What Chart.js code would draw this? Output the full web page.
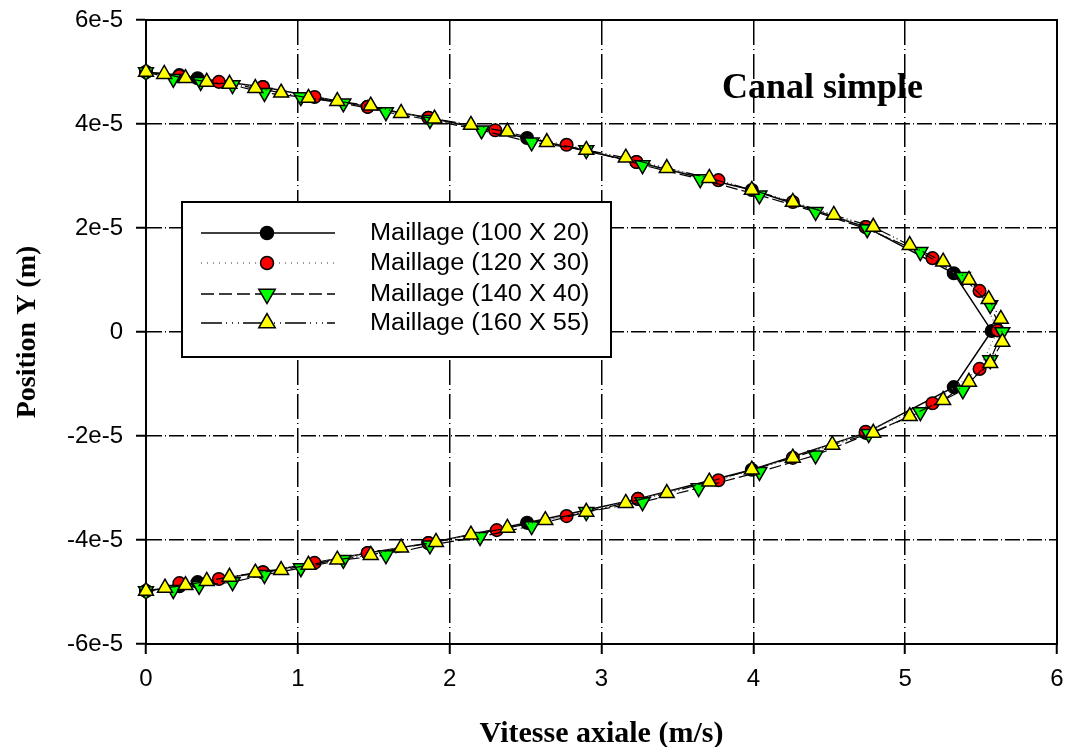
<!DOCTYPE html>
<html>
<head>
<meta charset="utf-8">
<script src="https://cdn.jsdelivr.net/npm/chart.js@4.4.1/dist/chart.umd.min.js"></script>
<style>
  html, body { margin: 0; padding: 0; background: #fff; }
  #wrap { width: 1067px; height: 747px; position: relative; }
</style>
</head>
<body>
<div id="wrap"><canvas id="c" width="1067" height="747"></canvas></div>
<script>
// Axial velocity profiles across the channel for four mesh sizes.
// Velocity in m/s, position in micrometres (converted to metres below),
// each series listed from the top wall to the bottom wall.

const seriesNames = [
  'Maillage (100 X 20)',
  'Maillage (120 X 30)',
  'Maillage (140 X 40)',
  'Maillage (160 X 55)'
];

const velocity100x20 = [0, 0.22, 0.34, 0.77, 1.46, 1.86, 2.51, 3.23, 3.99, 4.74, 5.32, 5.57,
  5.32, 4.74, 3.99, 3.24, 2.51, 1.86, 1.46, 0.77, 0.34, 0.22, 0];
const position100x20 = [50.0, 49.4, 48.8, 47.1, 43.3, 41.2, 37.3, 32.7, 27.3, 20.2, 11.3, 0.2,
  -10.6, -19.4, -26.5, -32.1, -36.7, -40.6, -42.5, -46.2, -48.1, -48.9, -49.8];

const velocity120x30 = [0, 0.22, 0.48, 0.77, 1.11, 1.46, 1.86, 2.30, 2.77, 3.23, 3.77, 4.26, 4.74, 5.18, 5.49, 5.61,
  5.49, 5.18, 4.74, 4.26, 3.77, 3.24, 2.77, 2.31, 1.86, 1.46, 1.11, 0.77, 0.48, 0.22, 0];
const position120x30 = [50.0, 49.2, 48.1, 47.1, 45.2, 43.3, 41.2, 38.8, 36.0, 32.7, 29.2, 25.0, 20.2, 14.2, 7.9, 0.3,
  -7.1, -13.7, -19.2, -24.2, -28.5, -32.1, -35.4, -38.1, -40.6, -42.5, -44.4, -46.2, -47.5, -48.3, -49.8];

const velocity140x40 = [0, 0.18, 0.36, 0.57, 0.78, 1.02, 1.30, 1.58, 1.87, 2.21, 2.54, 2.90, 3.27, 3.65, 4.04, 4.41, 4.75, 5.10, 5.38, 5.56, 5.64,
  5.56, 5.38, 5.10, 4.76, 4.41, 4.04, 3.64, 3.27, 2.90, 2.54, 2.20, 1.87, 1.58, 1.30, 1.02, 0.78, 0.57, 0.35, 0.18, 0];
const position140x40 = [50.0, 48.7, 48.1, 47.5, 46.0, 45.2, 44.0, 42.3, 40.8, 38.8, 36.5, 35.0, 32.1, 29.4, 26.3, 23.1, 19.8, 15.4, 10.6, 5.2, 0,
  -5.4, -11.2, -15.4, -19.6, -23.7, -26.9, -30.0, -32.7, -34.6, -37.3, -39.4, -41.0, -42.9, -43.8, -45.4, -46.7, -48.1, -48.8, -49.6, -49.8];

const velocity160x55 = [0, 0.12, 0.26, 0.40, 0.55, 0.72, 0.89, 1.07, 1.26, 1.48, 1.68, 1.90, 2.14, 2.38, 2.64, 2.90, 3.16, 3.43, 3.71, 3.99, 4.26, 4.53, 4.79, 5.03, 5.25, 5.42, 5.55, 5.63,
  5.64, 5.56, 5.42, 5.25, 5.03, 4.79, 4.52, 4.26, 3.99, 3.71, 3.43, 3.16, 2.90, 2.63, 2.38, 2.14, 1.91, 1.68, 1.48, 1.26, 1.07, 0.89, 0.72, 0.55, 0.40, 0.26, 0.125, 0];
const position160x55 = [50.0, 49.6, 48.8, 48.1, 47.7, 46.9, 46.0, 45.0, 44.4, 43.5, 42.1, 41.0, 39.8, 38.5, 36.5, 35.0, 33.5, 31.5, 29.6, 27.3, 25.0, 22.5, 20.2, 16.7, 13.5, 10.0, 6.3, 2.5,
  -1.9, -6.0, -9.6, -13.1, -16.2, -19.4, -21.7, -24.2, -26.5, -28.8, -31.0, -32.9, -34.6, -36.2, -37.7, -39.0, -40.4, -41.5, -42.9, -43.8, -44.8, -45.8, -46.3, -47.1, -47.9, -48.7, -49.2, -49.8];

const xTickValues = [0, 1, 2, 3, 4, 5, 6];
const xTickLabels = ['0', '1', '2', '3', '4', '5', '6'];
const yTickValues = [-6e-5, -4e-5, -2e-5, 0, 2e-5, 4e-5, 6e-5];
const yTickLabels = ['-6e-5', '-4e-5', '-2e-5', '0', '2e-5', '4e-5', '6e-5'];

const xTitle = 'Vitesse axiale (m/s)';
const yTitle = 'Position Y (m)';
const annotationText = 'Canal simple';

const MICRO = 1e-6;
const toPoints = (vel, pos) => vel.map((u, i) => ({ x: u, y: pos[i] * MICRO }));

// Marker and line styles per mesh
const styles = [
  { fill: '#000000', line: '#000000', dash: [], width: 1.5, point: 'circle', rot: 0, r: 6.3 },
  { fill: '#ff0000', line: '#666666', dash: [1, 3], width: 1.2, point: 'circle', rot: 0, r: 6.3 },
  { fill: '#00ff00', line: '#000000', dash: [12, 4], width: 1.2, point: 'triangle', rot: 180, r: 8.6 },
  { fill: '#ffff00', line: '#000000', dash: [14, 3, 1, 3, 1, 3], width: 1.2, point: 'triangle', rot: 0, r: 8.6 }
];
const legendDashes = [[], [1, 5], [13, 5], [21, 4, 1, 5, 1, 5, 1, 4]];

const seriesData = [
  toPoints(velocity100x20, position100x20),
  toPoints(velocity120x30, position120x30),
  toPoints(velocity140x40, position140x40),
  toPoints(velocity160x55, position160x55)
];

const datasets = seriesData.map((pts, i) => ({
  label: seriesNames[i],
  data: pts,
  showLine: true,
  borderColor: styles[i].line,
  borderWidth: styles[i].width,
  borderDash: styles[i].dash,
  pointStyle: styles[i].point,
  rotation: styles[i].rot,
  pointRadius: styles[i].r,
  pointBackgroundColor: styles[i].fill,
  pointBorderColor: '#000000',
  pointBorderWidth: 1.5,
  tension: 0,
  clip: false,
  order: 3 - i
}));

// Frame around the plot, legend box and annotation
const decorations = {
  id: 'decorations',
  beforeDatasetsDraw(chart) {
    const { ctx, chartArea: a } = chart;
    ctx.save();
    ctx.strokeStyle = '#000';
    ctx.lineWidth = 2;
    ctx.strokeRect(a.left, a.top, a.right - a.left, a.bottom - a.top);
    ctx.restore();
  },
  afterDatasetsDraw(chart) {
    const ctx = chart.ctx;
    ctx.save();
    ctx.fillStyle = '#000';
    ctx.font = 'bold 36px "Liberation Serif"';
    ctx.textAlign = 'left';
    ctx.textBaseline = 'alphabetic';
    ctx.fillText(annotationText, 722, 98);

    // legend
    const bx = 182, by = 202, bw = 429, bh = 155;
    ctx.fillStyle = '#fff';
    ctx.fillRect(bx, by, bw, bh);
    ctx.strokeStyle = '#000';
    ctx.lineWidth = 2;
    ctx.strokeRect(bx, by, bw, bh);
    const rowY = [233, 263, 294, 323];
    seriesNames.forEach((name, i) => {
      const y = rowY[i];
      ctx.save();
      ctx.strokeStyle = i === 1 ? '#777' : '#000';
      ctx.lineWidth = 1.5;
      ctx.setLineDash(legendDashes[i]);
      ctx.beginPath();
      ctx.moveTo(201, y);
      ctx.lineTo(335, y);
      ctx.stroke();
      ctx.restore();
      ctx.save();
      ctx.fillStyle = styles[i].fill;
      ctx.strokeStyle = '#000';
      ctx.lineWidth = 1.5;
      Chart.helpers.drawPoint(ctx, {
        pointStyle: styles[i].point,
        rotation: styles[i].rot,
        radius: styles[i].point === 'circle' ? 6.5 : 9.5,
        borderWidth: 1.5
      }, 267, y);
      ctx.restore();
      ctx.save();
      ctx.fillStyle = '#000';
      ctx.font = '23px "Liberation Sans"';
      ctx.textAlign = 'left';
      ctx.textBaseline = 'middle';
      ctx.translate(370, y + 1);
      ctx.scale(1.1, 1);
      ctx.fillText(name, 0, 0);
      ctx.restore();
    });
    ctx.restore();
  }
};

const gridCommon = {
  color: '#000',
  lineWidth: 1.5,
  tickLength: 10,
  tickColor: '#000',
  tickWidth: 2,
  tickBorderDash: []
};

new Chart(document.getElementById('c'), {
  type: 'scatter',
  data: { datasets },
  plugins: [decorations],
  options: {
    responsive: false,
    animation: false,
    devicePixelRatio: 1,
    layout: { autoPadding: false, padding: { top: 20, right: 10, left: 0, bottom: 0 } },
    plugins: { legend: { display: false }, tooltip: { enabled: false } },
    scales: {
      x: {
        type: 'linear',
        min: 0,
        max: 6,
        afterBuildTicks: s => { s.ticks = xTickValues.map(v => ({ value: v })); },
        afterFit: s => { s.height = 103; s.paddingLeft = 0; s.paddingRight = 0; },
        grid: gridCommon,
        border: { display: true, color: '#000', width: 2, dash: [25, 4, 1, 4] },
        ticks: {
          color: '#000',
          font: { family: '"Liberation Sans"', size: 24 },
          padding: 11,
          maxRotation: 0,
          callback: (v, i) => xTickLabels[i]
        },
        title: {
          display: true,
          text: xTitle,
          color: '#000',
          font: { family: '"Liberation Serif"', size: 30, weight: 'bold', lineHeight: 0.8 },
          padding: { top: 0, bottom: 1 }
        }
      },
      y: {
        type: 'linear',
        min: -6e-5,
        max: 6e-5,
        afterBuildTicks: s => { s.ticks = yTickValues.map(v => ({ value: v })); },
        afterFit: s => { s.width = 146; s.paddingTop = 0; s.paddingBottom = 0; },
        grid: gridCommon,
        border: { display: true, color: '#000', width: 2, dash: [15, 3, 1, 3] },
        ticks: {
          color: '#000',
          font: { family: '"Liberation Sans"', size: 24 },
          padding: 13,
          callback: (v, i) => yTickLabels[i]
        },
        title: {
          display: true,
          text: yTitle,
          color: '#000',
          font: { family: '"Liberation Serif"', size: 28, weight: 'bold', lineHeight: 1.2 },
          padding: { top: 11, bottom: 0 }
        }
      }
    }
  }
});
</script>
</body>
</html>
